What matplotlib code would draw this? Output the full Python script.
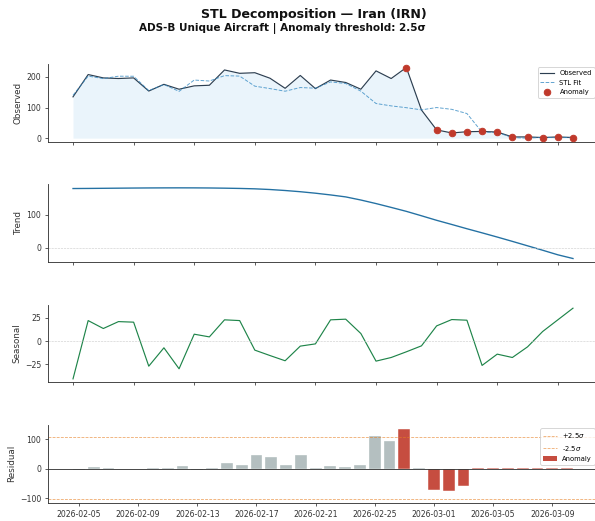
import numpy as np
import pandas as pd
import matplotlib
matplotlib.use("Agg")
import matplotlib.pyplot as plt
import matplotlib.dates as mdates
from matplotlib.lines import Line2D
from matplotlib.patches import Patch
from matplotlib.ticker import MaxNLocator

# ---- data -------------------------------------------------------------
dates = pd.date_range("2026-02-05", periods=34, freq="D")

observed = [135, 208, 197, 195, 197, 154, 176, 160, 171, 173, 223, 212, 214, 196,
            163, 205, 162, 190, 182, 160, 220, 195, 231, 92, 27, 17, 21, 22, 20,
            4, 4, 2, 4, 2]

trend = [180.5, 180.8, 181.2, 181.6, 182.0, 182.3, 182.5, 182.6, 182.5, 182.2,
         181.6, 180.8, 179.6, 177.5, 174.5, 170.8, 166.3, 161.0, 155.0, 145.5,
         134.7, 123.0, 111.0, 97.5, 83.7, 71.0, 58.0, 45.5, 32.7, 19.5, 6.0,
         -7.5, -21.4, -32.7]

seasonal = [-40.4, 22.1, 13.6, 21.0, 20.4, -26.8, -7.1, -29.6, 7.5, 4.6, 22.9,
            22.1, -9.6, -15.4, -21.0, -5.3, -2.9, 22.9, 23.6, 8.2, -21.4, -17.5,
            -11.4, -5.0, 16.4, 23.2, 22.5, -26.0, -13.9, -17.5, -6.1, 10.4, 22.9,
            35.4]

residual = [-4, 5, 3, -3, -2, 0.5, 2, 7, -4, 0.5, 20, 13, 47, 38, 12, 45, 0.5,
            10, 4, 11, 112, 94, 136, 2, -72, -75, -58, 2, 0.5, 3, 3, 0.5, 0.5,
            0.5]

is_anomaly = [False] * 22 + [True, False] + [True] * 10

upper_threshold = 106
lower_threshold = -104

country = "Iran (IRN)"
metric = "ADS-B Unique Aircraft"
sigma_k = 2.5

# ---- styling ----------------------------------------------------------
C_OBS = "#2c3e50"
C_FIT = "#2e86c1"
C_FILL = "#3498db"
C_ANOM = "#c0392b"
C_TREND = "#2471a3"
C_SEAS = "#1e8449"
C_RES = "#95a5a6"
C_THR = "#e67e22"
TEXT = "#333333"

plt.rcParams.update({
    "font.family": "DejaVu Sans",
    "axes.edgecolor": TEXT,
    "axes.linewidth": 0.9,
    "xtick.color": TEXT,
    "ytick.color": TEXT,
    "axes.labelcolor": TEXT,
})

fit = np.array(trend) + np.array(seasonal)
obs = np.array(observed)
anom = np.array(is_anomaly)

fig, axes = plt.subplots(4, 1, figsize=(595 / 70, 521 / 70), dpi=70)
fig.subplots_adjust(left=0.0807, right=1.005, top=0.8772, bottom=0.0351,
                    hspace=0.548)
ax_obs, ax_tr, ax_se, ax_re = axes

# Observed vs STL fit
ax_obs.fill_between(dates, obs, 0, color=C_FILL, alpha=0.1, linewidth=0)
ax_obs.plot(dates, obs, color=C_OBS, lw=1.2, label="Observed")
ax_obs.plot(dates, fit, color=C_FIT, lw=1.0, ls="--", alpha=0.75, label="STL Fit")
ax_obs.scatter(dates[anom], obs[anom], color=C_ANOM, s=45, zorder=5,
               label="Anomaly")
ax_obs.set_ylabel("Observed", fontsize=9)
ax_obs.legend(loc="upper right", fontsize=7, frameon=True, edgecolor="#cccccc",
              fancybox=True)

# Trend
ax_tr.plot(dates, trend, color=C_TREND, lw=1.4)
ax_tr.axhline(0, color="#cccccc", lw=0.6, ls="--")
ax_tr.set_ylabel("Trend", fontsize=9)

# Seasonal
ax_se.plot(dates, seasonal, color=C_SEAS, lw=1.2)
ax_se.axhline(0, color="#cccccc", lw=0.6, ls="--")
ax_se.set_ylabel("Seasonal", fontsize=9)

# Residual
bar_colors = [C_ANOM if a else C_RES for a in is_anomaly]
bar_alpha = [0.9 if a else 0.7 for a in is_anomaly]
for d, r, c, a in zip(dates, residual, bar_colors, bar_alpha):
    ax_re.bar(d, r, width=0.8, color=c, alpha=a, edgecolor="white", linewidth=0.5)
ax_re.axhline(0, color=TEXT, lw=0.9)
ax_re.axhline(upper_threshold, color=C_THR, lw=0.8, ls="--", alpha=0.7)
ax_re.axhline(lower_threshold, color=C_THR, lw=0.8, ls="--", alpha=0.7)
ax_re.set_ylabel("Residual", fontsize=9)
handles = [
    Line2D([], [], color=C_THR, lw=0.8, ls="--", alpha=0.7, label=r"+2.5$\sigma$"),
    Line2D([], [], color=C_THR, lw=0.8, ls="--", alpha=0.7, label=r"-2.5$\sigma$"),
    Patch(facecolor=C_ANOM, alpha=0.9, label="Anomaly"),
]
ax_re.legend(handles=handles, loc="upper right", fontsize=7, edgecolor="#cccccc")

tick_dates = dates[::4]
for ax in axes:
    ax.spines["top"].set_visible(False)
    ax.spines["right"].set_visible(False)
    ax.set_xticks(tick_dates)
    ax.xaxis.set_major_formatter(mdates.DateFormatter("%Y-%m-%d"))
    ax.yaxis.set_major_locator(MaxNLocator(nbins=4, steps=[1, 2, 2.5, 5, 10]))
    ax.tick_params(axis="y", labelsize=8)
    ax.tick_params(axis="x", labelsize=8)
for ax in axes[:3]:
    ax.tick_params(axis="x", labelbottom=False)

fig.text(314 / 595, 1 - 18.3 / 521, f"STL Decomposition \u2014 {country}",
         ha="center", va="baseline", fontsize=13, fontweight="bold", color="#111111")
fig.text(282 / 595, 1 - 31.3 / 521,
         f"{metric} | Anomaly threshold: {sigma_k}\u03c3",
         ha="center", va="baseline", fontsize=10.7, fontweight="bold", color="#111111")

fig.savefig("out.png", dpi=70)
